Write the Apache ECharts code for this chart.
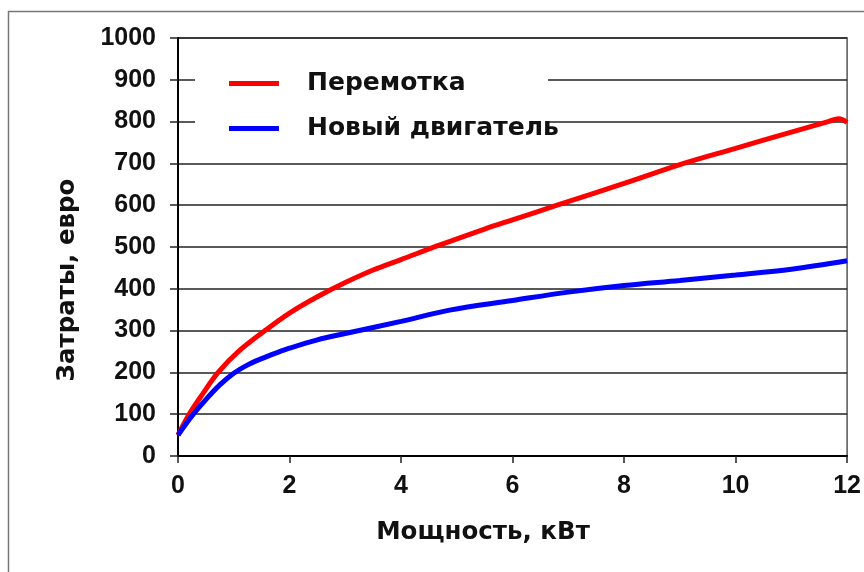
<!DOCTYPE html>
<html>
<head>
<meta charset="utf-8">
<script src="https://cdn.jsdelivr.net/npm/echarts@6/dist/echarts.min.js"></script>
<style>
  html, body { margin: 0; padding: 0; background: #fff; }
  #chart { width: 864px; height: 572px; }
</style>
</head>
<body>
<div id="chart"></div>
<script>
// Cost of rewinding an old motor vs. buying a new one, by motor power
const seriesNames = ['Перемотка', 'Новый двигатель'];

const powerRewind = [0, 0.2, 0.45, 0.72, 1.1, 1.56, 2, 2.5, 3, 3.5, 4, 4.7, 5.5, 6, 6.8, 8, 9.07, 10, 11, 11.66, 11.85, 12];
const costRewind  = [50, 100, 150, 200, 252, 300, 342, 381, 415, 445, 470, 505, 543, 565, 600, 652, 700, 736, 775, 800, 807, 798];

const powerNew = [0, 0.25, 0.5, 0.75, 1, 1.25, 1.5, 1.75, 2, 2.5, 3, 4, 4.87, 6, 7, 8, 9, 10, 11, 12];
const costNew  = [50, 96, 135, 170, 198, 218, 233, 246, 258, 278, 293, 322, 349, 372, 392, 408, 420, 433, 447, 467];

const xTicks = [0, 2, 4, 6, 8, 10, 12];
const yTicks = [0, 100, 200, 300, 400, 500, 600, 700, 800, 900, 1000];

const pairs = (xs, ys) => xs.map((x, i) => [x, ys[i]]);

const tickFont = { fontFamily: 'Liberation Sans, Arial, sans-serif', fontWeight: 'bold', fontSize: 25, color: '#111' };
const titleFont = { fontFamily: 'DejaVu Sans, Verdana, sans-serif', fontWeight: 'bold', fontSize: 24.5, color: '#111' };
const legendFont = { fontFamily: 'DejaVu Sans, Verdana, sans-serif', fontWeight: 'bold', fontSize: 25, color: '#111' };

const chart = echarts.init(document.getElementById('chart'), null, { renderer: 'canvas' });
chart.setOption({
  animation: false,
  backgroundColor: '#fff',
  graphic: [
    { type: 'rect', z: 0, shape: { x: 8.5, y: 11.5, width: 900, height: 600 },
      style: { fill: 'none', stroke: '#777', lineWidth: 1.5 } },
    { type: 'rect', z: 1, shape: { x: 195, y: 60, width: 353, height: 86 },
      style: { fill: '#fff' } }
  ],
  grid: {
    left: 178, right: 15, top: 38, bottom: 116,
    show: true, borderColor: '#555', borderWidth: 1.5, backgroundColor: 'transparent'
  },
  legend: {
    orient: 'vertical', left: 195, top: 70,
    padding: [0, 0, 0, 34],
    itemWidth: 50, itemHeight: 5, itemGap: 18,
    icon: 'rect',
    data: seriesNames,
    textStyle: Object.assign({}, legendFont, { padding: [0, 0, 0, 23], lineHeight: 27 })
  },
  xAxis: {
    type: 'value', min: 0, max: 12, interval: 2,
    axisLine: { show: true, lineStyle: { color: '#000', width: 2 } },
    axisTick: { show: true, length: 7, lineStyle: { color: '#222', width: 1.5 } },
    axisLabel: Object.assign({}, tickFont, { margin: 18, formatter: v => xTicks.includes(v) ? String(v) : '' }),
    splitLine: { show: false },
    name: 'Мощность, кВт', nameLocation: 'middle', nameGap: 64,
    nameTextStyle: Object.assign({}, titleFont, { padding: [0, 59, 0, 0] })
  },
  yAxis: {
    type: 'value', min: 0, max: 1000, interval: 100,
    axisLine: { show: true, lineStyle: { color: '#000', width: 2 } },
    axisTick: { show: true, length: 8, lineStyle: { color: '#222', width: 1.5 } },
    axisLabel: Object.assign({}, tickFont, { margin: 22, formatter: v => yTicks.includes(v) ? String(v) : '' }),
    splitLine: { show: true, lineStyle: { color: '#222', width: 1.5 } },
    name: 'Затраты, евро', nameLocation: 'middle', nameGap: 98,
    nameTextStyle: Object.assign({}, titleFont, { padding: [0, 66, 0, 0] })
  },
  series: [
    {
      name: seriesNames[0], type: 'line', smooth: 0.35, symbol: 'none', z: 3,
      data: pairs(powerRewind, costRewind),
      itemStyle: { color: '#ff0000' },
      lineStyle: { color: '#ff0000', width: 5 }
    },
    {
      name: seriesNames[1], type: 'line', smooth: 0.35, symbol: 'none', z: 4,
      data: pairs(powerNew, costNew),
      itemStyle: { color: '#0000ff' },
      lineStyle: { color: '#0000ff', width: 5 }
    }
  ]
});
</script>
</body>
</html>
